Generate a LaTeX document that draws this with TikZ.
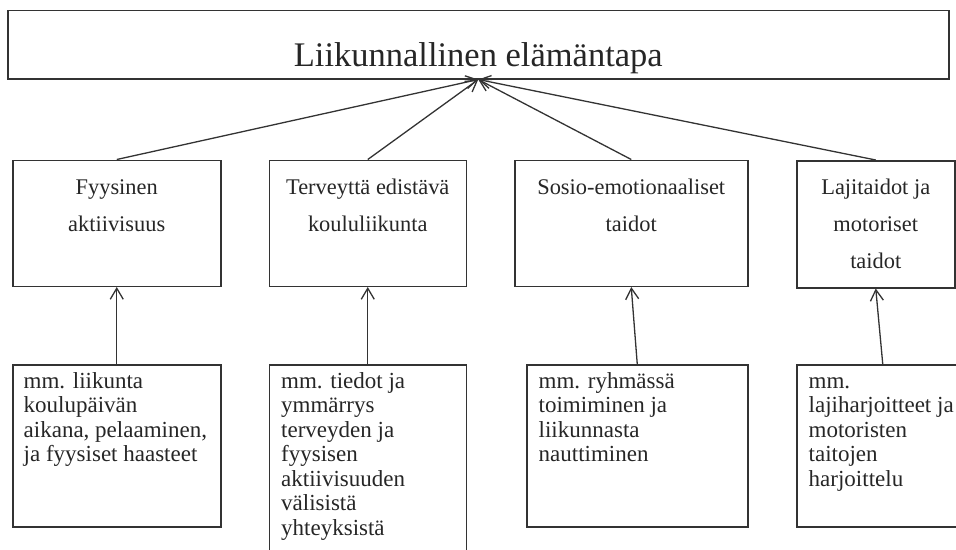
\documentclass[tikz,border=0pt]{standalone}
\usepackage{fontspec}
\setmainfont{Liberation Serif}
\usetikzlibrary{arrows.meta,calc}
\definecolor{ink}{HTML}{262626}
\definecolor{rule}{HTML}{333333}
\begin{document}
\begin{tikzpicture}[x=1pt,y=-1pt,
  frame/.style={draw=rule, line width=1.5pt, inner sep=0pt, anchor=north west},
  link/.style={draw=rule, line width=1.3pt, -{Straight Barb[length=11pt,width=13pt]}},
  headtxt/.style={text=ink, font=\fontsize{34.5}{40}\selectfont, anchor=base, inner sep=0pt},
  midtxt/.style={text=ink, font=\fontsize{22.4}{37}\selectfont, align=center, anchor=base, inner sep=0pt},
  lowtxt/.style={text=ink, font=\fontsize{23}{24.5}\selectfont, align=left, anchor=base west, inner sep=0pt}]
\useasboundingbox (0,0) rectangle (956,549);
\clip (0,0) rectangle (956,549);

% main concept
\node[frame, minimum width=941pt, minimum height=68.5pt] (top) at (7,9.5) {};
\node[headtxt] (toptxt) at ($(top.south)+(0,-13)$) {Liikunnallinen elämäntapa};

% four component areas (text placed by the baseline of its last line)
\node[frame, minimum width=208pt, minimum height=126pt] (m1) at (12,159.5) {};
\node[frame, minimum width=197pt, minimum height=126pt] (m2) at (268.5,159.5) {};
\node[frame, minimum width=233pt, minimum height=126pt] (m3) at (514,159.5) {};
\node[frame, minimum width=158pt, minimum height=127pt] (m4) at (796,160) {};

\node[midtxt] (m1txt) at ($(m1.north)+(0,71.5)$) {Fyysinen\\aktiivisuus};
\node[midtxt] (m2txt) at ($(m2.north)+(0,71.5)$) {Terveyttä edistävä\\koululiikunta};
\node[midtxt] (m3txt) at ($(m3.north)+(0,71.5)$) {Sosio-emotionaaliset\\taidot};
\node[midtxt] (m4txt) at ($(m4.north)+(0,108)$) {Lajitaidot ja\\motoriset\\taidot};

% examples for each area
\node[frame, minimum width=208pt, minimum height=162pt] (b1) at (12,364) {};
\node[frame, minimum width=197pt, minimum height=200pt] (b2) at (268.5,364) {};
\node[frame, minimum width=221pt, minimum height=162pt] (b3) at (526,364) {};
\node[frame, minimum width=172pt, minimum height=162pt] (b4) at (796,364) {};

\node[lowtxt] (b1txt) at ($(b1.north west)+(11.5,97.5)$) {mm. liikunta\\koulupäivän\\aikana, pelaaminen,\\ja fyysiset haasteet};
\node[lowtxt] (b2txt) at ($(b2.north west)+(12.5,171)$) {mm. tiedot ja\\ymmärrys\\terveyden ja\\fyysisen\\aktiivisuuden\\välisistä\\yhteyksistä};
\node[lowtxt] (b3txt) at ($(b3.north west)+(12.5,97.5)$) {mm. ryhmässä\\toimiminen ja\\liikunnasta\\nauttiminen};
\node[lowtxt] (b4txt) at ($(b4.north west)+(12.5,122)$) {mm.\\lajiharjoitteet ja\\motoristen\\taitojen\\harjoittelu};

% connectors
\foreach \i in {1,...,4}{
  \draw[link] (m\i.north) -- (top.south);
  \draw[link] (b\i.north) -- (m\i.south);
}
\end{tikzpicture}
\end{document}
